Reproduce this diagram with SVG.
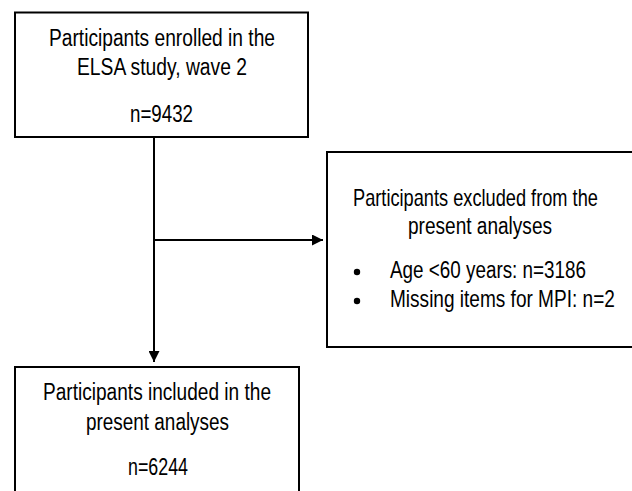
<svg xmlns="http://www.w3.org/2000/svg" width="632" height="491" viewBox="0 0 632 491">
  <style>
    .box { fill: #ffffff; stroke: #000000; stroke-width: 2; }
    .t { font-family: "Liberation Sans", Arial, sans-serif; font-size: 23px; fill: #000000; }
    .conn { stroke: #000000; stroke-width: 2; fill: none; }
  </style>
  <defs>
    <marker id="arrow" markerUnits="userSpaceOnUse" markerWidth="12" markerHeight="11" refX="11" refY="5.5" orient="auto">
      <path d="M0,0 L11,5.5 L0,11 Z" fill="#000000"/>
    </marker>
  </defs>
  <rect width="632" height="491" fill="#ffffff"/>

  <g id="node-enrolled">
    <rect class="box" x="15" y="12.5" width="293" height="124.5"/>
    <text class="t" x="49" y="45.5" textLength="226" lengthAdjust="spacingAndGlyphs">Participants enrolled in the</text>
    <text class="t" x="77" y="75" textLength="170" lengthAdjust="spacingAndGlyphs">ELSA study, wave 2</text>
    <text class="t" x="130" y="121.5" textLength="63" lengthAdjust="spacingAndGlyphs">n=9432</text>
  </g>

  <g id="node-excluded">
    <path class="box" d="M632,152 H327 V347 H632"/>
    <text class="t" transform="translate(353,206) scale(0.792,1)" x="0" y="0">Participants excluded from the</text>
    <text class="t" x="408" y="234" textLength="144" lengthAdjust="spacingAndGlyphs">present analyses</text>
    <circle cx="357" cy="272" r="3.2" fill="#000000"/>
    <text class="t" x="390" y="278" textLength="196" lengthAdjust="spacingAndGlyphs">Age &lt;60 years: n=3186</text>
    <circle cx="357" cy="301" r="3.2" fill="#000000"/>
    <text class="t" transform="translate(390,307) scale(0.828,1)" x="0" y="0">Missing items for MPI: n=2</text>
  </g>

  <g id="node-included">
    <path class="box" d="M15,491 V367 H299 V491"/>
    <text class="t" x="43" y="400" textLength="228" lengthAdjust="spacingAndGlyphs">Participants included in the</text>
    <text class="t" x="86" y="430" textLength="143" lengthAdjust="spacingAndGlyphs">present analyses</text>
    <text class="t" x="128" y="475" textLength="60" lengthAdjust="spacingAndGlyphs">n=6244</text>
  </g>

  <g id="connectors">
    <line class="conn" x1="154" y1="137" x2="154" y2="362" marker-end="url(#arrow)"/>
    <line class="conn" x1="154" y1="240" x2="323" y2="240" marker-end="url(#arrow)"/>
  </g>
</svg>
